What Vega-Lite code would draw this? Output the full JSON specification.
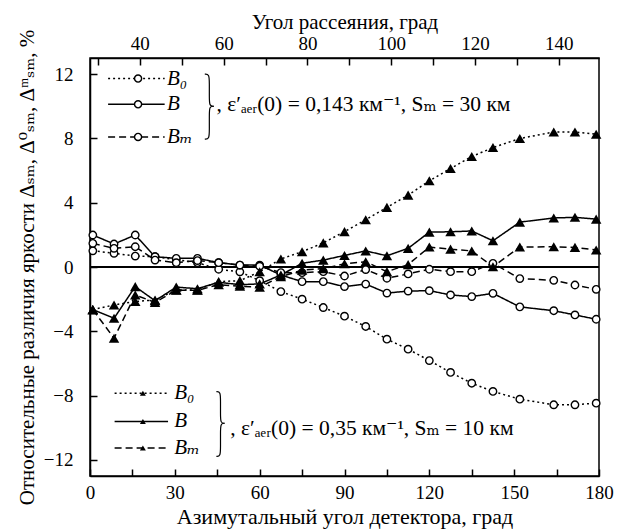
{
  "$schema": "https://vega.github.io/schema/vega-lite/v6.json",
  "width": 509,
  "height": 418,
  "autosize": "none",
  "padding": {"left": 90, "top": 58, "right": 30, "bottom": 55},
  "background": "white",
  "config": {
    "view": {"stroke": "black", "strokeWidth": 1.5},
    "font": "'Liberation Serif', 'Times New Roman', 'DejaVu Serif', serif",
    "text": {"font": "'Liberation Serif', 'Times New Roman', 'DejaVu Serif', serif"},
    "axis": {
      "grid": false,
      "tickColor": "black",
      "tickWidth": 1.5,
      "domainColor": "black",
      "domainWidth": 1.5,
      "labelColor": "black",
      "labelFontSize": 19,
      "labelFont": "'Liberation Serif', 'Times New Roman', 'DejaVu Serif', serif",
      "titleFont": "'Liberation Serif', 'Times New Roman', 'DejaVu Serif', serif",
      "titleFontSize": 22,
      "titleFontWeight": "normal",
      "titleColor": "black",
      "labelFlush": false,
      "labelOverlap": false
    }
  },
  "datasets": {
    "series": [
      {"x":1,"y":1.01,"s":"c0","m":"c"},{"x":8.5,"y":0.85,"s":"c0","m":"c"},{"x":16,"y":0.68,"s":"c0","m":"c"},{"x":23,"y":0.64,"s":"c0","m":"c"},{"x":30.5,"y":0.45,"s":"c0","m":"c"},{"x":38,"y":0.27,"s":"c0","m":"c"},{"x":45.5,"y":-0.14,"s":"c0","m":"c"},{"x":53,"y":-0.3,"s":"c0","m":"c"},{"x":60,"y":-0.85,"s":"c0","m":"c"},{"x":67.5,"y":-1.53,"s":"c0","m":"c"},{"x":75,"y":-2.0,"s":"c0","m":"c"},{"x":82.5,"y":-2.52,"s":"c0","m":"c"},{"x":90,"y":-3.06,"s":"c0","m":"c"},{"x":97.5,"y":-3.7,"s":"c0","m":"c"},{"x":105,"y":-4.49,"s":"c0","m":"c"},{"x":112.5,"y":-5.11,"s":"c0","m":"c"},{"x":120,"y":-5.82,"s":"c0","m":"c"},{"x":127.5,"y":-6.56,"s":"c0","m":"c"},{"x":135,"y":-7.23,"s":"c0","m":"c"},{"x":142.5,"y":-7.74,"s":"c0","m":"c"},{"x":152,"y":-8.22,"s":"c0","m":"c"},{"x":164,"y":-8.57,"s":"c0","m":"c"},{"x":171.5,"y":-8.57,"s":"c0","m":"c"},{"x":179,"y":-8.47,"s":"c0","m":"c"},
      {"x":1,"y":1.99,"s":"c","m":"c"},{"x":8.5,"y":1.43,"s":"c","m":"c"},{"x":16,"y":1.99,"s":"c","m":"c"},{"x":23,"y":0.64,"s":"c","m":"c"},{"x":30.5,"y":0.54,"s":"c","m":"c"},{"x":38,"y":0.54,"s":"c","m":"c"},{"x":45.5,"y":0.27,"s":"c","m":"c"},{"x":53,"y":0.12,"s":"c","m":"c"},{"x":60,"y":0.12,"s":"c","m":"c"},{"x":67.5,"y":-0.5,"s":"c","m":"c"},{"x":75,"y":-0.91,"s":"c","m":"c"},{"x":82.5,"y":-0.91,"s":"c","m":"c"},{"x":90,"y":-1.22,"s":"c","m":"c"},{"x":97.5,"y":-1.06,"s":"c","m":"c"},{"x":105,"y":-1.62,"s":"c","m":"c"},{"x":112.5,"y":-1.5,"s":"c","m":"c"},{"x":120,"y":-1.47,"s":"c","m":"c"},{"x":127.5,"y":-1.74,"s":"c","m":"c"},{"x":135,"y":-1.84,"s":"c","m":"c"},{"x":142.5,"y":-1.64,"s":"c","m":"c"},{"x":152,"y":-2.48,"s":"c","m":"c"},{"x":164,"y":-2.72,"s":"c","m":"c"},{"x":171.5,"y":-2.98,"s":"c","m":"c"},{"x":179,"y":-3.25,"s":"c","m":"c"},
      {"x":1,"y":1.47,"s":"cm","m":"c"},{"x":8.5,"y":1.16,"s":"cm","m":"c"},{"x":16,"y":1.26,"s":"cm","m":"c"},{"x":23,"y":0.43,"s":"cm","m":"c"},{"x":30.5,"y":0.27,"s":"cm","m":"c"},{"x":38,"y":0.4,"s":"cm","m":"c"},{"x":45.5,"y":0.27,"s":"cm","m":"c"},{"x":53,"y":0.12,"s":"cm","m":"c"},{"x":60,"y":0.05,"s":"cm","m":"c"},{"x":67.5,"y":-0.35,"s":"cm","m":"c"},{"x":75,"y":-0.35,"s":"cm","m":"c"},{"x":82.5,"y":-0.29,"s":"cm","m":"c"},{"x":90,"y":-0.56,"s":"cm","m":"c"},{"x":97.5,"y":-0.16,"s":"cm","m":"c"},{"x":105,"y":-0.7,"s":"cm","m":"c"},{"x":112.5,"y":-0.43,"s":"cm","m":"c"},{"x":120,"y":-0.14,"s":"cm","m":"c"},{"x":127.5,"y":-0.29,"s":"cm","m":"c"},{"x":135,"y":-0.29,"s":"cm","m":"c"},{"x":142.5,"y":0.23,"s":"cm","m":"c"},{"x":152,"y":-0.72,"s":"cm","m":"c"},{"x":164,"y":-0.83,"s":"cm","m":"c"},{"x":171.5,"y":-1.12,"s":"cm","m":"c"},{"x":179,"y":-1.39,"s":"cm","m":"c"},
      {"x":1,"y":-2.65,"s":"t0","m":"t"},{"x":8.5,"y":-2.36,"s":"t0","m":"t"},{"x":16,"y":-2.15,"s":"t0","m":"t"},{"x":23,"y":-2.05,"s":"t0","m":"t"},{"x":30.5,"y":-1.43,"s":"t0","m":"t"},{"x":38,"y":-1.43,"s":"t0","m":"t"},{"x":45.5,"y":-0.91,"s":"t0","m":"t"},{"x":53,"y":-0.85,"s":"t0","m":"t"},{"x":60,"y":-0.3,"s":"t0","m":"t"},{"x":67.5,"y":0.5,"s":"t0","m":"t"},{"x":75,"y":0.95,"s":"t0","m":"t"},{"x":82.5,"y":1.5,"s":"t0","m":"t"},{"x":90,"y":2.2,"s":"t0","m":"t"},{"x":97.5,"y":2.94,"s":"t0","m":"t"},{"x":105,"y":3.71,"s":"t0","m":"t"},{"x":112.5,"y":4.47,"s":"t0","m":"t"},{"x":120,"y":5.36,"s":"t0","m":"t"},{"x":127.5,"y":6.13,"s":"t0","m":"t"},{"x":135,"y":6.87,"s":"t0","m":"t"},{"x":142.5,"y":7.43,"s":"t0","m":"t"},{"x":152,"y":7.99,"s":"t0","m":"t"},{"x":164,"y":8.4,"s":"t0","m":"t"},{"x":171.5,"y":8.4,"s":"t0","m":"t"},{"x":179,"y":8.26,"s":"t0","m":"t"},
      {"x":1,"y":-2.65,"s":"t","m":"t"},{"x":8.5,"y":-3.19,"s":"t","m":"t"},{"x":16,"y":-1.22,"s":"t","m":"t"},{"x":23,"y":-2.1,"s":"t","m":"t"},{"x":30.5,"y":-1.25,"s":"t","m":"t"},{"x":38,"y":-1.35,"s":"t","m":"t"},{"x":45.5,"y":-0.95,"s":"t","m":"t"},{"x":53,"y":-1.1,"s":"t","m":"t"},{"x":60,"y":-1.05,"s":"t","m":"t"},{"x":67.5,"y":-0.5,"s":"t","m":"t"},{"x":75,"y":0.23,"s":"t","m":"t"},{"x":82.5,"y":0.43,"s":"t","m":"t"},{"x":90,"y":0.72,"s":"t","m":"t"},{"x":97.5,"y":1.0,"s":"t","m":"t"},{"x":105,"y":0.7,"s":"t","m":"t"},{"x":112.5,"y":1.16,"s":"t","m":"t"},{"x":120,"y":2.17,"s":"t","m":"t"},{"x":127.5,"y":2.19,"s":"t","m":"t"},{"x":135,"y":2.24,"s":"t","m":"t"},{"x":142.5,"y":1.63,"s":"t","m":"t"},{"x":152,"y":2.79,"s":"t","m":"t"},{"x":164,"y":3.05,"s":"t","m":"t"},{"x":171.5,"y":3.09,"s":"t","m":"t"},{"x":179,"y":2.98,"s":"t","m":"t"},
      {"x":1,"y":-2.65,"s":"tm","m":"t"},{"x":8.5,"y":-4.43,"s":"tm","m":"t"},{"x":16,"y":-1.74,"s":"tm","m":"t"},{"x":23,"y":-2.2,"s":"tm","m":"t"},{"x":30.5,"y":-1.45,"s":"tm","m":"t"},{"x":38,"y":-1.45,"s":"tm","m":"t"},{"x":45.5,"y":-1.1,"s":"tm","m":"t"},{"x":53,"y":-1.2,"s":"tm","m":"t"},{"x":60,"y":-1.25,"s":"tm","m":"t"},{"x":67.5,"y":-0.6,"s":"tm","m":"t"},{"x":75,"y":-0.2,"s":"tm","m":"t"},{"x":82.5,"y":-0.1,"s":"tm","m":"t"},{"x":90,"y":0.2,"s":"tm","m":"t"},{"x":97.5,"y":0.33,"s":"tm","m":"t"},{"x":105,"y":-0.29,"s":"tm","m":"t"},{"x":112.5,"y":0.15,"s":"tm","m":"t"},{"x":120,"y":1.24,"s":"tm","m":"t"},{"x":127.5,"y":1.11,"s":"tm","m":"t"},{"x":135,"y":1.0,"s":"tm","m":"t"},{"x":142.5,"y":0.02,"s":"tm","m":"t"},{"x":152,"y":1.24,"s":"tm","m":"t"},{"x":164,"y":1.26,"s":"tm","m":"t"},{"x":171.5,"y":1.22,"s":"tm","m":"t"},{"x":179,"y":1.06,"s":"tm","m":"t"}
    ],
    "legend": [
      {"x":6.4,"x2":26.4,"mx":17.0,"tx":27.2,"y":11.72,"s":"c0","m":"c","t":"B₀"},
      {"x":6.4,"x2":26.4,"mx":17.0,"tx":27.2,"y":10.12,"s":"c","m":"c","t":"B"},
      {"x":6.4,"x2":26.4,"mx":17.0,"tx":27.2,"y":8.09,"s":"cm","m":"c","t":"Bₘ"},
      {"x":8.7,"x2":27.6,"mx":18.7,"tx":29.8,"y":-7.85,"s":"t0","m":"t","t":"B₀"},
      {"x":8.7,"x2":27.6,"mx":18.7,"tx":29.8,"y":-9.61,"s":"t","m":"t","t":"B"},
      {"x":8.7,"x2":27.6,"mx":18.7,"tx":29.8,"y":-11.26,"s":"tm","m":"t","t":"Bₘ"}
    ],
    "brace": [
      {"b":"u1","i":0,"x":40.6,"y":12.0},{"b":"u1","i":1,"x":42.2,"y":12.0},{"b":"u1","i":2,"x":42.2,"y":11.4},{"b":"u1","i":3,"x":42.2,"y":10.6},{"b":"u1","i":4,"x":42.2,"y":10.0},{"b":"u1","i":5,"x":43.8,"y":10.0},
      {"b":"u2","i":0,"x":43.8,"y":10.0},{"b":"u2","i":1,"x":42.2,"y":10.0},{"b":"u2","i":2,"x":42.2,"y":9.4},{"b":"u2","i":3,"x":42.2,"y":8.55},{"b":"u2","i":4,"x":42.2,"y":7.95},{"b":"u2","i":5,"x":40.6,"y":7.95},
      {"b":"l1","i":0,"x":44.7,"y":-7.75},{"b":"l1","i":1,"x":46.15,"y":-7.75},{"b":"l1","i":2,"x":46.15,"y":-8.35},{"b":"l1","i":3,"x":46.15,"y":-9.1},{"b":"l1","i":4,"x":46.15,"y":-9.72},{"b":"l1","i":5,"x":47.6,"y":-9.72},
      {"b":"l2","i":0,"x":47.6,"y":-9.72},{"b":"l2","i":1,"x":46.15,"y":-9.72},{"b":"l2","i":2,"x":46.15,"y":-10.35},{"b":"l2","i":3,"x":46.15,"y":-11.18},{"b":"l2","i":4,"x":46.15,"y":-11.78},{"b":"l2","i":5,"x":44.7,"y":-11.78}
    ],
    "notes": [
      {"x":44.7,"y":10.05,"t":", ε′ₐₑᵣ(0) = 0,143 км⁻¹, Sₘ = 30 км"},
      {"x":49.6,"y":-10.1,"t":", ε′ₐₑᵣ(0) = 0,35 км⁻¹, Sₘ = 10 км"}
    ]
  },
  "layer": [
    {
      "layer": [
        {
          "data": {"values": [{"y": 0}]},
          "mark": {"type": "rule", "color": "black", "strokeWidth": 2},
          "encoding": {
            "y": {
              "field": "y", "type": "quantitative",
              "scale": {"domain": [-13, 13], "nice": false, "zero": false},
              "axis": {
                "values": [-12,-10,-8,-6,-4,-2,0,2,4,6,8,10,12],
                "labelExpr": "datum.value % 4 == 0 ? datum.label : ''",
                "tickSize": -7,
                "labelPadding": 24,
                "title": "Относительные различия яркости Δₛₘ, Δ⁰ₛₘ, Δᵐₛₘ, %",
                "titleFontSize": 21,
                "titlePadding": 6
              }
            }
          }
        },
        {
          "data": {"name": "series"},
          "mark": {"type": "line", "color": "black", "strokeWidth": 1.5},
          "encoding": {
            "x": {
              "field": "x", "type": "quantitative",
              "scale": {"domain": [0, 180], "nice": false, "zero": false},
              "axis": {
                "values": [0,15,30,45,60,75,90,105,120,135,150,165,180],
                "labelExpr": "datum.value % 30 == 0 ? datum.label : ''",
                "tickSize": -7,
                "labelPadding": 14,
                "title": "Азимутальный угол детектора, град",
                "titlePadding": 4
              }
            },
            "y": {"field": "y", "type": "quantitative"},
            "detail": {"field": "s"},
            "strokeDash": {
              "field": "s", "type": "nominal",
              "scale": {"domain": ["c0","c","cm","t0","t","tm"], "range": [[2,3],[1,0],[7,4],[2,3],[1,0],[7,4]]},
              "legend": null
            }
          }
        },
        {
          "data": {"name": "series"},
          "transform": [{"filter": "datum.m == 'c'"}],
          "mark": {"type": "point", "shape": "circle", "filled": false, "fill": "white", "fillOpacity": 1, "stroke": "black", "strokeWidth": 1.4, "size": 55, "opacity": 1},
          "encoding": {
            "x": {"field": "x", "type": "quantitative"},
            "y": {"field": "y", "type": "quantitative"}
          }
        },
        {
          "data": {"name": "series"},
          "transform": [{"filter": "datum.m == 't'"}],
          "mark": {"type": "point", "shape": "triangle-up", "filled": true, "color": "black", "size": 110, "opacity": 1},
          "encoding": {
            "x": {"field": "x", "type": "quantitative"},
            "y": {"field": "y", "type": "quantitative"}
          }
        },
        {
          "data": {"name": "legend"},
          "mark": {"type": "rule", "color": "black", "strokeWidth": 1.5},
          "encoding": {
            "x": {"field": "x", "type": "quantitative"},
            "x2": {"field": "x2"},
            "y": {"field": "y", "type": "quantitative"},
            "strokeDash": {"field": "s", "type": "nominal", "legend": null}
          }
        },
        {
          "data": {"name": "legend"},
          "transform": [{"filter": "datum.m == 'c'"}],
          "mark": {"type": "point", "shape": "circle", "filled": false, "fill": "white", "fillOpacity": 1, "stroke": "black", "strokeWidth": 1.4, "size": 50, "opacity": 1},
          "encoding": {
            "x": {"field": "mx", "type": "quantitative"},
            "y": {"field": "y", "type": "quantitative"}
          }
        },
        {
          "data": {"name": "legend"},
          "transform": [{"filter": "datum.m == 't'"}],
          "mark": {"type": "point", "shape": "triangle-up", "filled": true, "color": "black", "size": 35, "opacity": 1},
          "encoding": {
            "x": {"field": "mx", "type": "quantitative"},
            "y": {"field": "y", "type": "quantitative"}
          }
        },
        {
          "data": {"name": "legend"},
          "mark": {"type": "text", "align": "left", "baseline": "middle", "fontSize": 21, "fontStyle": "italic", "color": "black"},
          "encoding": {
            "x": {"field": "tx", "type": "quantitative"},
            "y": {"field": "y", "type": "quantitative"},
            "text": {"field": "t"}
          }
        },
        {
          "data": {"name": "brace"},
          "mark": {"type": "line", "color": "black", "strokeWidth": 1.2, "interpolate": "basis"},
          "encoding": {
            "x": {"field": "x", "type": "quantitative"},
            "y": {"field": "y", "type": "quantitative"},
            "detail": {"field": "b"},
            "order": {"field": "i", "type": "quantitative"}
          }
        },
        {
          "data": {"name": "notes"},
          "mark": {"type": "text", "align": "left", "baseline": "middle", "fontSize": 21.5, "color": "black"},
          "encoding": {
            "x": {"field": "x", "type": "quantitative"},
            "y": {"field": "y", "type": "quantitative"},
            "text": {"field": "t"}
          }
        }
      ]
    },
    {
      "data": {"values": [{"s": 28.1}, {"s": 149.6}]},
      "mark": {"type": "point", "opacity": 0},
      "encoding": {
        "x": {
          "field": "s", "type": "quantitative",
          "scale": {"domain": [28.1, 149.6], "nice": false, "zero": false},
          "axis": {
            "orient": "top",
            "values": [30,40,50,60,70,80,90,100,110,120,130,140],
            "labelExpr": "datum.value % 20 == 0 ? datum.label : ''",
            "tickSize": -7,
            "labelPadding": 12,
            "title": "Угол рассеяния, град",
            "titleFontSize": 21,
            "titlePadding": 2
          }
        }
      }
    }
  ],
  "resolve": {"scale": {"x": "independent"}}
}
